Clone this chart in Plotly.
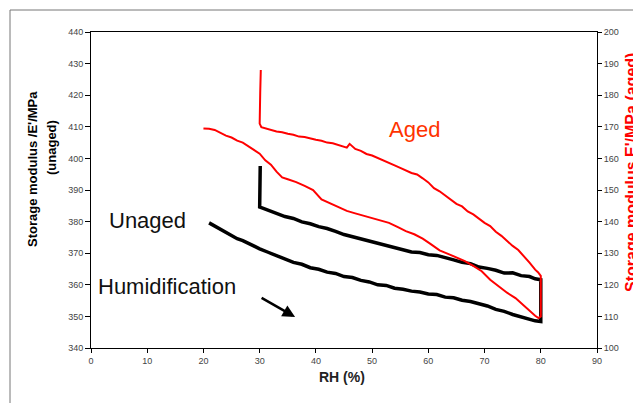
import plotly.graph_objects as go

# unaged sample (left axis), humidification branch 21 -> 80 %RH
unaged_hum_rh = [21, 22, 23, 24, 25, 26, 27, 28, 29, 30, 31.5, 33, 34.5, 36, 37.5, 39, 40.5, 42, 43.5, 45,
                 46.5, 48, 49.5, 51, 52.5, 54, 55.5, 57, 58.5, 60, 61.5, 63, 64.5, 66, 67.5, 69, 70.5, 72,
                 73.5, 75, 76.5, 78, 79, 80]
unaged_hum_e = [379.6, 378.6, 377.9, 376.6, 375.9, 374.6, 374.0, 373.1, 372.3, 371.4, 370.3, 369.2, 368.0,
                367.1, 366.5, 365.4, 364.9, 364.0, 363.6, 362.6, 362.3, 361.4, 360.9, 360.0, 359.8, 358.9,
                358.6, 358.0, 357.7, 357.1, 356.9, 356.1, 355.9, 355.1, 354.7, 353.9, 353.3, 352.2, 351.6,
                350.6, 349.8, 349.0, 348.6, 348.4]
# unaged, drying branch 80 -> 30 %RH and the hold at 30 %RH
unaged_dry_rh = [80, 80, 79, 78, 76.5, 75, 73.5, 72, 70.5, 69, 67.5, 66, 64.5, 63, 61.5, 60, 58.5, 57, 55.5,
                 54, 52.5, 51, 49.5, 48, 46.5, 45, 43.5, 42, 40.5, 39, 37.5, 36, 34.5, 33, 31.5, 30.3, 30,
                 30, 30.1, 30, 30.1]
unaged_dry_e = [352.0, 361.6, 361.9, 362.6, 362.9, 363.8, 363.7, 364.6, 365.2, 365.6, 366.7, 367.1, 367.9,
                368.6, 369.3, 369.5, 370.2, 370.4, 371.1, 371.8, 372.6, 373.2, 374.0, 374.6, 375.3, 375.9,
                376.9, 377.8, 378.4, 379.3, 379.9, 381.0, 381.6, 382.5, 383.5, 384.4, 384.6, 388.0, 392.0,
                395.0, 397.6]

# aged sample (right axis), humidification branch 20 -> 80 %RH
aged_hum_rh = [20, 21, 22, 23, 24, 25, 26, 27, 28, 29, 30, 31, 32, 33, 34, 35, 36.5, 38, 39.5, 41, 42.5, 44,
               45.5, 47, 48.5, 50, 51.5, 53, 54.5, 56, 57.5, 59, 60.5, 62, 63.5, 65, 66.5, 68, 69.5, 71,
               72.5, 74, 75.5, 77, 78, 79, 79.6, 80]
aged_hum_e = [169.5, 169.4, 169.0, 168.0, 167.2, 166.6, 165.6, 165.0, 163.9, 162.8, 161.5, 159.4, 158.0,
              155.8, 154.0, 153.4, 152.5, 151.3, 150.0, 147.0, 145.8, 144.6, 143.4, 142.6, 141.9, 141.2,
              140.4, 139.6, 138.3, 137.0, 136.0, 134.6, 132.8, 130.9, 129.8, 128.7, 127.5, 126.0, 124.3,
              121.6, 119.6, 117.5, 115.8, 113.4, 111.7, 110.2, 109.5, 110.0]
# aged, drying branch 80 -> 30 %RH and the hold at 30 %RH
aged_dry_rh = [80, 80, 79.5, 79, 78, 77, 76, 75, 74, 73, 72, 71, 70, 69, 68, 67, 66, 65, 64, 63, 62, 61, 60,
               59, 58, 57, 56, 55, 54, 53, 52, 51, 50, 49, 48, 47, 46, 45.5, 44, 43, 42, 41, 40, 39, 38,
               37, 36, 35, 34, 33, 32, 31, 30.3, 30, 30, 30.1, 30.2]
aged_dry_e = [116.0, 122.8, 124.0, 124.8, 127.0, 128.9, 131.0, 132.3, 134.0, 135.5, 136.8, 138.6, 139.6,
              141.0, 142.3, 143.2, 144.8, 145.6, 146.9, 148.1, 149.6, 150.6, 152.4, 153.7, 154.9, 155.4,
              156.3, 157.0, 157.8, 158.6, 159.4, 160.2, 160.9, 161.4, 162.4, 163.0, 164.6, 163.4, 164.3,
              164.8, 165.0, 165.6, 165.9, 166.3, 166.8, 166.9, 167.5, 167.8, 168.3, 168.5, 169.0, 169.6,
              169.9, 171.0, 176.0, 181.0, 188.0]

# page body has an 8px margin, so the figure is a bit smaller than the window
OFF = 8
W, H = 641 - OFF, 403 - OFF
L, R, T, B = 91 - OFF, 44, 32 - OFF, 55


def px(x, y):
    # pixel position in the window -> paper coords
    x, y = x - OFF, y - OFF
    return (x - L) / (W - L - R), (H - B - y) / (H - T - B)


FONT = "Arial, Liberation Sans, sans-serif"

fig = go.Figure()
fig.add_trace(go.Scatter(x=unaged_hum_rh + unaged_dry_rh, y=unaged_hum_e + unaged_dry_e, mode="lines",
                         line=dict(color="black", width=3.5), yaxis="y", showlegend=False))
fig.add_trace(go.Scatter(x=aged_hum_rh + aged_dry_rh, y=aged_hum_e + aged_dry_e, mode="lines",
                         line=dict(color="#ff0000", width=2), yaxis="y2", showlegend=False))

axis_common = dict(showgrid=False, zeroline=False, showline=True, linecolor="black", linewidth=1,
                   tickfont=dict(family=FONT, size=9, color="#444"), ticks="outside", tickcolor="black")
fig.update_layout(
    width=W, height=H,
    margin=dict(l=L, r=R, t=T, b=B),
    paper_bgcolor="white", plot_bgcolor="white",
    xaxis=dict(range=[0, 90], dtick=10, ticklen=4, mirror=True, **axis_common),
    yaxis=dict(range=[340, 440], dtick=10, ticklen=5, **axis_common),
    yaxis2=dict(range=[100, 200], dtick=10, ticklen=4, overlaying="y", side="right", **axis_common),
    yaxis3=dict(range=[100, 200], dtick=10, overlaying="y", side="right", showgrid=False, zeroline=False,
                showticklabels=False, ticks="inside", ticklen=3, tickcolor="black", showline=False),
)

x1, y1 = px(10, 10)
x2, y2 = px(660, 420)
fig.add_shape(type="rect", xref="paper", yref="paper", x0=x1, y0=y2, x1=x2, y1=y1,
              line=dict(color="#777", width=1), layer="below")

ax_title = dict(family=FONT, size=13, color="black", weight="bold")
for txt, cx, cy in [("Storage modulus /E'/MPa", 32, 169), ("(unaged)", 51, 148)]:
    xp, yp = px(cx, cy)
    fig.add_annotation(text=txt, xref="paper", yref="paper", x=xp, y=yp, textangle=-90, showarrow=False,
                       xanchor="center", yanchor="middle", font=ax_title)
xp, yp = px(631, 173)
fig.add_annotation(text="Storage modulus E'/MPa (aged)", xref="paper", yref="paper", x=xp, y=yp,
                   textangle=-90, showarrow=False, xanchor="center", yanchor="middle",
                   font=dict(family=FONT, size=16, color="#ff0000", weight="bold"))
xp, yp = px(342, 387)
fig.add_annotation(text="RH (%)", xref="paper", yref="paper", x=xp, y=yp, showarrow=False,
                   font=dict(family=FONT, size=14, color="#222", weight="bold"))

fig.add_annotation(text="Aged", x=57.6, y=409, showarrow=False, font=dict(family=FONT, size=22, color="#ff3300"))
fig.add_annotation(text="Unaged", x=10.1, y=380.5, showarrow=False, font=dict(family=FONT, size=22, color="#111"))
fig.add_annotation(text="Humidification", x=13.6, y=359.6, showarrow=False,
                   font=dict(family=FONT, size=22, color="#111"))
fig.add_annotation(text="", x=36.3, y=349.8, ax=-35, ay=-20, showarrow=True, arrowhead=2, arrowsize=1,
                   arrowwidth=2.5, arrowcolor="black")

fig.write_html("out.html")
